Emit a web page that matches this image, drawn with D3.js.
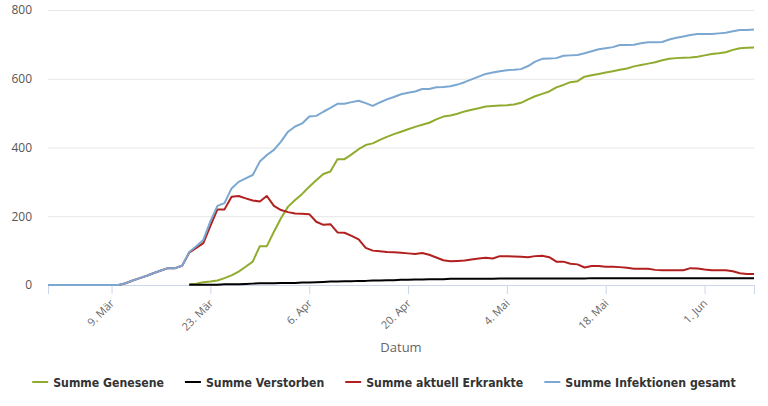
<!DOCTYPE html>
<html>
<head>
  <meta charset="utf-8">
  <title>Corona Fallzahlen</title>
  <style>
    body { margin: 0; background: #fff; }
    svg { display: block; }
  </style>
</head>
<body>
  <script src="https://d3js.org/d3.v7.min.js"></script>
  <script type="text/javascript">
    // first day of the series: 29 Feb 2020, one value per day
    var startDay = new Date(Date.UTC(2020, 1, 29));

    var infektionen = [0, 0, 0, 0, 0, 0, 0, 0, 0, 0,
      0, 5, 13, 20, 27, 35, 42, 49, 49, 56,
      96, 113, 131, 185, 230, 238, 281, 300, 310, 320,
      359, 378, 393, 417, 446, 461, 470, 490, 492, 504,
      515, 527, 527, 532, 536, 529, 521, 531, 540, 547,
      555, 559, 563, 570, 570, 575, 576, 578, 583, 590,
      598, 606, 614, 618, 622, 625, 626, 628, 637, 650,
      658, 659, 660, 667, 668, 669, 674, 680, 686, 689,
      692, 698, 698, 699, 703, 706, 706, 707, 714, 719,
      723, 727, 730, 730, 730, 732, 734, 738, 742, 742, 743];

    var genesene = [null, null, null, null, null, null, null, null, null, null,
      null, null, null, null, null, null, null, null, null, null,
      2, 4, 8, 10, 13, 20, 28, 39, 53, 68,
      113, 113, 155, 194, 228, 247, 265, 286, 305, 323,
      330, 366, 366, 380, 395, 407, 412, 422, 431, 439,
      446, 453, 460, 466, 472, 482, 490, 493, 498, 505,
      510, 514, 519, 521, 522, 523, 525, 530, 540, 549,
      556, 563, 575, 582, 590, 593, 606, 610, 614, 618,
      622, 626, 630, 636, 640, 644, 648, 654, 658, 660,
      661, 662, 664, 668, 672, 674, 677, 684, 689, 690, 691];

    var erkrankte = [0, 0, 0, 0, 0, 0, 0, 0, 0, 0,
      0, 5, 13, 20, 27, 35, 42, 49, 49, 56,
      94, 108, 122, 172, 220, 220, 257, 259, 252, 246,
      243, 259, 230, 218, 212, 208, 207, 206, 184, 175,
      177, 153, 152, 143, 133, 108, 100, 98, 96, 95,
      94, 92, 90, 93, 88, 80, 72, 69, 70, 71,
      74, 77, 79, 77, 84, 84, 83, 82, 81, 84,
      85, 81, 68, 68, 62, 60, 51, 55, 55, 53,
      53, 52, 50, 47, 47, 47, 44, 43, 43, 43,
      43, 49, 48, 45, 43, 43, 43, 40, 34, 32, 32];

    var verstorben = [null, null, null, null, null, null, null, null, null, null,
      null, null, null, null, null, null, null, null, null, null,
      1, 1, 1, 1, 1, 2, 2, 2, 3, 4,
      5, 5, 5, 6, 6, 6, 7, 7, 8, 9,
      10, 10, 11, 11, 12, 12, 13, 13, 14, 14,
      15, 15, 16, 16, 17, 17, 17, 18, 18, 18,
      18, 18, 18, 18, 19, 19, 19, 19, 19, 19,
      19, 19, 19, 19, 19, 19, 19, 20, 20, 20,
      20, 20, 20, 20, 20, 20, 20, 20, 20, 20,
      20, 20, 20, 20, 20, 20, 20, 20, 20, 20, 20];

    var tickDates = [[2020, 2, 9], [2020, 2, 23], [2020, 3, 6], [2020, 3, 20],
      [2020, 4, 4], [2020, 4, 18], [2020, 5, 1]];
    var tickLabels = ['9. Mär', '23. Mär', '6. Apr', '20. Apr', '4. Mai', '18. Mai', '1. Jun'];
    var yTicks = [0, 200, 400, 600, 800];

    var seriesNames = ['Summe Genesene', 'Summe Verstorben', 'Summe aktuell Erkrankte', 'Summe Infektionen gesamt'];
    var seriesColors = ['#90ac2e', '#000000', '#b1201f', '#7ba7d1'];
    var seriesData = [genesene, verstorben, erkrankte, infektionen];

    var svgW = 768;
    var svgH = 406;
    var margin = { left: 48, right: 14, top: 10, bottom: 121 };

    var days = seriesData[0].map(function(d, i) {
      return d3.utcDay.offset(startDay, i);
    });

    var svg = d3.select('body').append('svg')
      .attr('width', svgW).attr('height', svgH);

    var x = d3.scaleUtc()
      .domain([days[0], days[days.length - 1]])
      .range([margin.left, svgW - margin.right]);

    var y = d3.scaleLinear()
      .domain([0, 800])
      .range([svgH - margin.bottom, margin.top]);

    // grid lines + y labels
    var yAxis = d3.axisLeft(y).tickValues(yTicks)
      .tickSize(-(svgW - margin.left - margin.right)).tickPadding(16);
    var gy = svg.append('g')
      .attr('transform', 'translate(' + margin.left + ',0)')
      .call(yAxis);
    gy.select('.domain').remove();
    gy.selectAll('.tick line').attr('stroke', '#e6e6e6');
    gy.selectAll('.tick text')
      .attr('fill', '#555').attr('font-family', 'Open Sans, sans-serif').attr('font-size', '12px');

    // x axis
    var tickValues = tickDates.map(function(t) { return new Date(Date.UTC(t[0], t[1], t[2])); });
    var xAxis = d3.axisBottom(x).tickValues(tickValues).tickSize(9)
      .tickFormat(function(d, i) { return tickLabels[i]; });
    var gx = svg.append('g')
      .attr('transform', 'translate(0,' + y(0) + ')')
      .call(xAxis);
    gx.select('.domain').attr('stroke', '#ccd6eb');
    gx.selectAll('.tick line').attr('stroke', '#ccd6eb');
    gx.selectAll('.tick text')
      .attr('fill', '#666').attr('font-family', 'Open Sans, sans-serif').attr('font-size', '11px')
      .attr('text-anchor', 'end')
      .attr('dy', null).attr('y', 0)
      .attr('transform', 'translate(3,19) rotate(-45)');

    svg.append('text')
      .attr('x', (margin.left + svgW - margin.right) / 2)
      .attr('y', 352)
      .attr('text-anchor', 'middle')
      .attr('fill', '#666').attr('font-family', 'Open Sans, sans-serif').attr('font-size', '13px')
      .text('Datum');

    // lines
    var line = d3.line()
      .defined(function(d) { return d != null; })
      .x(function(d, i) { return x(days[i]); })
      .y(function(d) { return y(d); });

    svg.selectAll('path.series').data(seriesData).enter().append('path')
      .attr('class', 'series')
      .attr('fill', 'none')
      .attr('stroke', function(d, i) { return seriesColors[i]; })
      .attr('stroke-width', 2)
      .attr('stroke-linejoin', 'round')
      .attr('d', line);

    // legend, centred
    var legend = svg.append('g');
    var items = legend.selectAll('g').data(seriesNames).enter().append('g');
    items.append('line')
      .attr('x1', 0).attr('x2', 16).attr('y1', 0).attr('y2', 0)
      .attr('stroke', function(d, i) { return seriesColors[i]; })
      .attr('stroke-width', 2);
    items.append('text')
      .attr('x', 21).attr('y', 5)
      .attr('fill', '#333')
      .attr('font-family', 'DejaVu Sans Condensed, sans-serif')
      .attr('font-stretch', 'condensed')
      .attr('font-weight', 'bold')
      .attr('font-size', '12.2px')
      .text(function(d) { return d; });

    var offset = 0;
    items.each(function() {
      var w = 21 + this.querySelector('text').getComputedTextLength();
      d3.select(this).attr('transform', 'translate(' + offset + ',0)');
      offset += w + 21;
    });
    var total = offset - 21;
    legend.attr('transform', 'translate(' + ((svgW - total) / 2) + ',382)');
  </script>
</body>
</html>
